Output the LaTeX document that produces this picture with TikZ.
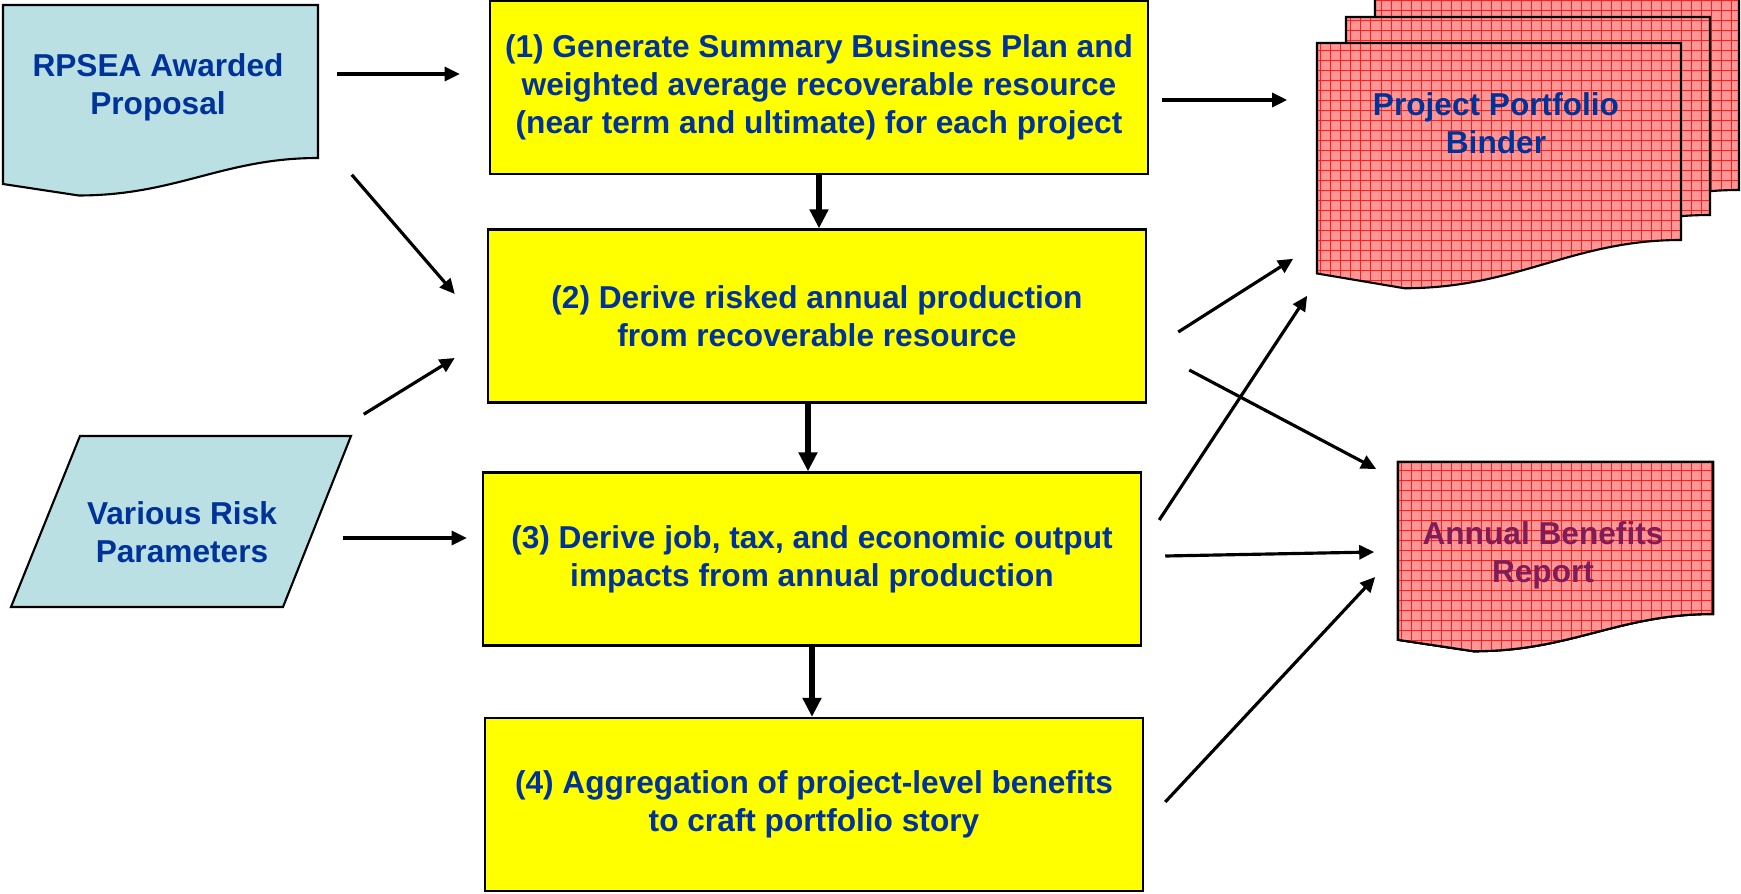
\documentclass[tikz,border=0pt]{standalone}
\usepackage{fontspec}
\setmainfont{Liberation Sans}
\usepackage{tikz}
\usetikzlibrary{arrows.meta,calc}

\definecolor{textblue}{RGB}{0,51,153}
\definecolor{reporttext}{RGB}{128,28,88}
\definecolor{paleblue}{RGB}{187,224,227}
\definecolor{pinkfill}{RGB}{255,150,150}
\definecolor{gridred}{RGB}{255,30,30}
\definecolor{boxyellow}{RGB}{255,255,0}

% document outline: style, left, top, right, bottom of the straight edge
\newcommand{\docshape}[5]{%
  \pgfmathsetmacro\dL{#2}\pgfmathsetmacro\dT{#3}%
  \pgfmathsetmacro\dR{#4}\pgfmathsetmacro\dB{#5}%
  \pgfmathsetmacro\dW{\dR-\dL}\pgfmathsetmacro\dH{\dB-\dT}%
  \pgfmathsetmacro\dCa{\dR-0.3*\dW}\pgfmathsetmacro\dCb{\dL+0.55*\dW}%
  \pgfmathsetmacro\dX{\dL+0.24*\dW}\pgfmathsetmacro\dM{\dB+0.245*\dH}%
  \pgfmathsetmacro\dY{\dB+0.17*\dH}%
  \draw[#1] (\dL,\dT) -- (\dR,\dT) -- (\dR,\dB)
    .. controls (\dCa,\dB) and (\dCb,\dM) .. (\dX,\dM) -- (\dL,\dY) -- cycle;}

\begin{document}
\begin{tikzpicture}[x=0.01cm, y=-0.01cm,
    txt/.style={font=\fontsize{9pt}{10.8pt}\selectfont\bfseries, text=textblue, align=center},
    stepbox/.style={txt, draw, fill=boxyellow, line width=0.6pt, minimum width=6.58cm, minimum height=1.73cm},
    bluedoc/.style={draw, line width=0.6pt, fill=paleblue},
    reddoc/.style={draw, line width=0.6pt, fill=pinkfill,
        path picture={\draw[gridred, line width=0.22pt, step=0.1cm]
            (path picture bounding box.south west) grid (path picture bounding box.north east);}},
    arr/.style={line width=0.9pt, -{Triangle[length=0.15cm, width=0.14cm]}},
    varr/.style={line width=1.5pt, -{Triangle[length=0.19cm, width=0.18cm]}}]
    \useasboundingbox (0,0) rectangle (1741,894);

    % Inputs
    \docshape{bluedoc}{3}{5}{318}{158}
    \draw[bluedoc] (80,436) -- (351,436) -- (283,607) -- (11,607) -- cycle;
    \node[txt, minimum width=3.15cm, minimum height=1.53cm] (prop) at (158,87) {RPSEA Awarded\\Proposal};
    \node[txt, minimum width=2.7cm, minimum height=1.71cm] (params) at (182,532) {Various Risk\\Parameters};

    % Outputs
    \foreach \k in {2,1,0}
        \docshape{reddoc}{1317+29*\k}{43-26*\k}{1681+29*\k}{240-25*\k}
    \docshape{reddoc}{1398}{462}{1713}{614}
    \node[txt, minimum width=3.64cm, minimum height=1.97cm] (binder) at (1496,123) {Project Portfolio\\Binder};
    \node[txt, text=reporttext, minimum width=3.15cm, minimum height=1.52cm] (report) at (1543,555) {Annual Benefits\\Report};

    % Steps
    \node[stepbox] (box1) at (819,87.5) {(1) Generate Summary Business Plan and\\weighted average recoverable resource\\(near term and ultimate) for each project};
    \node[stepbox] (box2) at (817,316) {(2) Derive risked annual production\\from recoverable resource};
    \node[stepbox] (box3) at (812,559) {(3) Derive job, tax, and economic output\\impacts from annual production};
    \node[stepbox] (box4) at (814,804.5) {(4) Aggregation of project-level benefits\\to craft portfolio story};

    % Connections
    \draw[varr] (box1.south) -- (box1.south |- box2.north);
    \draw[varr] ($(box2.south)+(-9,0)$) -- ($(box2.south |- box3.north)+(-9,0)$);
    \draw[varr] (box3.south) -- (box3.south |- box4.north);

    \draw[arr] ($(prop.east)+(20.5,-13)$) -- ($(box1.west)+(-29,-13.5)$);
    \draw[arr] ($(prop.south east)+(35.5,10.5)$) -- ($(box2.west)+(-32,-22)$);
    \draw[arr] ($(params.north east)+(46,-31.5)$) -- ($(box2.west)+(-32,42)$);
    \draw[arr] ($(params.east)+(25,6)$) -- ($(box3.west)+(-15,-21)$);

    \draw[arr] ($(box1.east)+(13,12.5)$) -- ($(binder.west)+(-26,-23)$);
    \draw[arr] ($(box2.east)+(31,16)$) -- ($(binder.south west)+(-20,36.5)$);
    \draw[arr] ($(box2.east)+(42,54)$) -- ($(report.west)+(-8.5,-86)$);
    \draw[arr] ($(box3.east)+(17,-39)$) -- ($(binder.south west)+(-6,73.5)$);
    \draw[arr] ($(box3.east)+(23,-3)$) -- ($(report.west)+(-10.5,-3)$);
    \draw[arr] ($(box4.east)+(21,-2.5)$) -- ($(report.west)+(-9.5,22)$);
\end{tikzpicture}
\end{document}
